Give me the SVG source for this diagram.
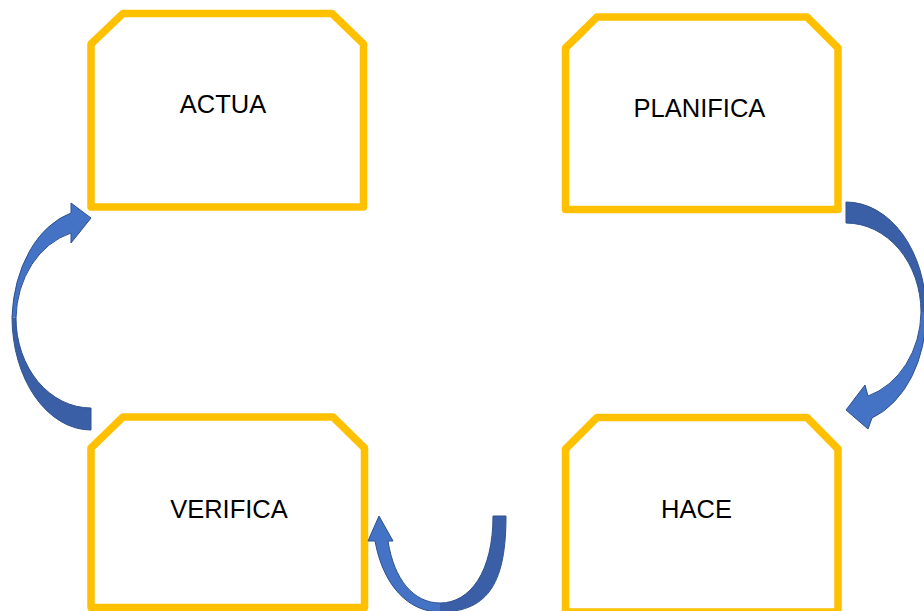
<svg xmlns="http://www.w3.org/2000/svg" width="924" height="611" viewBox="0 0 924 611">
<style>
.box{fill:#FFFFFF;stroke:#FFC000;stroke-width:7.5;stroke-linejoin:round}
.lbl{font-family:"Liberation Sans",Arial,sans-serif;font-size:25.5px;fill:#000000;text-anchor:middle}
.light{fill:#4472C4;stroke:none}
.dark{fill:#3A5FA6;stroke:none}
.outline{fill:none;stroke:#2F528F;stroke-width:1;stroke-linejoin:round}
</style>
<rect width="924" height="611" fill="#FFFFFF"/>
<g id="node-actua">
<path class="box" d="M91,44 L123,13.5 L332,13.5 L363.5,44 L363.5,207 L91,207 Z"/>
<text class="lbl" x="223" y="113">ACTUA</text>
</g>
<g id="node-planifica">
<path class="box" d="M565.5,48 L597,17 L807,17 L838,48 L838,209.5 L565.5,209.5 Z"/>
<text class="lbl" x="699.5" y="117">PLANIFICA</text>
</g>
<g id="node-verifica">
<path class="box" d="M91,448 L123,417 L333,417 L364.5,448 L364.5,607.5 L91,607.5 Z"/>
<text class="lbl" x="229" y="518">VERIFICA</text>
</g>
<g id="node-hace">
<path class="box" d="M565.5,449 L597,417.5 L807,417.5 L838,449 L838,612 L565.5,612 Z"/>
<text class="lbl" x="696.5" y="518">HACE</text>
</g>
<g id="connectors">
<g id="arrow-verifica-actua">
<path class="dark" d="M12,317 A79,113 0 0 0 91,430 L91,408 A75,90 0 0 1 16,318 Z"/>
<path class="light" d="M71,213 A79,113 0 0 0 12,317 L16,318 A75,90 0 0 1 71,233 L71,243 L91,218 L71,203 Z"/>
<path class="outline" d="M71,213 A79,113 0 0 0 12,317 A79,113 0 0 0 91,430 L91,408 A75,90 0 0 1 16,318 A75,90 0 0 1 71,233 L71,243 L91,218 L71,203 Z"/>
</g>
<g id="arrow-planifica-hace">
<path class="dark" d="M846,202 A80,110 0 0 1 926,312 L921,312 A75,89 0 0 0 846,223 Z"/>
<path class="light" d="M926,312 A80,110 0 0 1 872,418 L868,429 L846,410 L865,385 L868,396 A75,89 0 0 0 921,312 Z"/>
<path class="outline" d="M846,202 A80,110 0 0 1 926,312 A80,110 0 0 1 872,418 L868,429 L846,410 L865,385 L868,396 A75,89 0 0 0 921,312 A75,89 0 0 0 846,223 Z"/>
</g>
<g id="arrow-hace-verifica">
<path class="dark" d="M440,612 C490,612 506,580 506,516 L493,516 C493,572 470,603 440,603 Z"/>
<path class="light" d="M440,612 C408,612 383,585 375,541 L368,541 L379,516 L393,541 L388,541 C394,580 414,603 440,603 Z"/>
<path class="outline" d="M506,516 C506,580 490,612 440,612 C408,612 383,585 375,541 L368,541 L379,516 L393,541 L388,541 C394,580 414,603 440,603 C470,603 493,572 493,516 Z"/>
</g>
</g>
</svg>
